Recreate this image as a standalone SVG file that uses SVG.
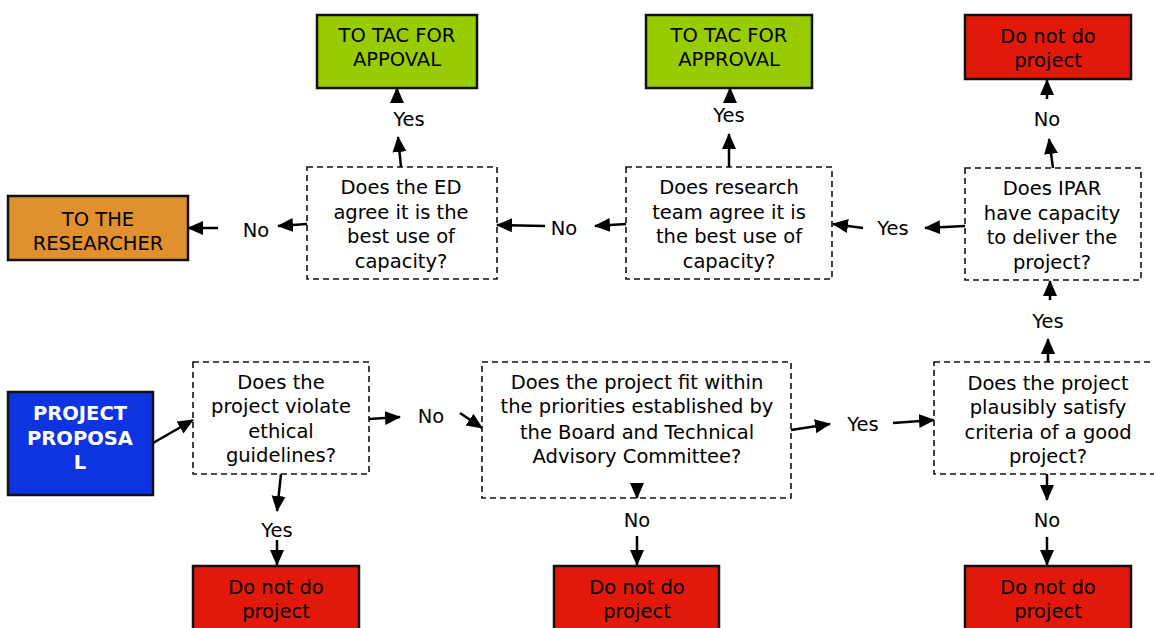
<svg xmlns="http://www.w3.org/2000/svg" width="1154" height="628" viewBox="0 0 1154 628">
<defs>
<marker id="ah" markerUnits="userSpaceOnUse" markerWidth="16" markerHeight="16" refX="15" refY="8" orient="auto">
<path d="M0,1 L16,8 L0,15 Z" fill="#000"/>
</marker>
<style>
text{font-family:"DejaVu Sans","Verdana",sans-serif;font-size:19.5px;fill:#000;text-anchor:middle}
.solid{stroke:#111;stroke-width:2.5}
.dash{fill:#fff;stroke:#111;stroke-width:1.6;stroke-dasharray:6,4}
.red{fill:#e2190a}
.green{fill:#99cc00}
.orange{fill:#e0902e}
.blue{fill:#0d34e0}
.w{fill:#fff;font-weight:bold}
#connectors path{fill:none;stroke:#000;stroke-width:2.5;marker-end:url(#ah)}
</style>
</defs>
<rect width="1154" height="628" fill="#fff"/>

<g id="tac1"><rect class="solid green" x="317" y="15" width="160" height="73"/><text x="397" y="35" dy="0.35em">TO TAC FOR</text><text x="397" y="59" dy="0.35em">APPOVAL</text></g>
<g id="tac2"><rect class="solid green" x="646" y="15" width="166" height="73"/><text x="729" y="35" dy="0.35em">TO TAC FOR</text><text x="729" y="59" dy="0.35em">APPROVAL</text></g>
<g id="stop1"><rect class="solid red" x="965" y="15" width="166" height="64"/><text x="1048" y="36" dy="0.35em">Do not do</text><text x="1048" y="60" dy="0.35em">project</text></g>
<g id="researcher"><rect class="solid orange" x="8" y="196" width="180" height="64"/><text x="98" y="219" dy="0.35em">TO THE</text><text x="98" y="243" dy="0.35em">RESEARCHER</text></g>
<g id="ed"><rect class="dash" x="307" y="167" width="190" height="112"/><text x="401" y="187" dy="0.35em">Does the ED</text><text x="401" y="212" dy="0.35em">agree it is the</text><text x="401" y="236" dy="0.35em">best use of</text><text x="401" y="261" dy="0.35em">capacity?</text></g>
<g id="team"><rect class="dash" x="626" y="167" width="206" height="112"/><text x="729" y="187" dy="0.35em">Does research</text><text x="729" y="212" dy="0.35em">team agree it is</text><text x="729" y="236" dy="0.35em">the best use of</text><text x="729" y="261" dy="0.35em">capacity?</text></g>
<g id="ipar"><rect class="dash" x="965" y="168" width="176" height="112"/><text x="1052" y="188" dy="0.35em">Does IPAR</text><text x="1052" y="213" dy="0.35em">have capacity</text><text x="1052" y="237" dy="0.35em">to deliver the</text><text x="1052" y="262" dy="0.35em">project?</text></g>
<g id="proposal"><rect class="solid blue" x="8" y="392" width="145" height="103"/><text class="w" x="80" y="413" dy="0.35em">PROJECT</text><text class="w" x="80" y="438" dy="0.35em">PROPOSA</text><text class="w" x="80" y="462" dy="0.35em">L</text></g>
<g id="ethical"><rect class="dash" x="193" y="362" width="176" height="112"/><text x="281" y="382" dy="0.35em">Does the</text><text x="281" y="406" dy="0.35em">project violate</text><text x="281" y="431" dy="0.35em">ethical</text><text x="281" y="455" dy="0.35em">guidelines?</text></g>
<g id="priorities"><rect class="dash" x="482" y="362" width="309" height="136"/><text x="637" y="382" dy="0.35em">Does the project fit within</text><text x="637" y="406" dy="0.35em">the priorities established by</text><text x="637" y="432" dy="0.35em">the Board and Technical</text><text x="637" y="456" dy="0.35em">Advisory Committee?</text></g>
<g id="criteria"><rect class="dash" x="934" y="362" width="230" height="112"/><text x="1048" y="383" dy="0.35em">Does the project</text><text x="1048" y="407" dy="0.35em">plausibly satisfy</text><text x="1048" y="432" dy="0.35em">criteria of a good</text><text x="1048" y="456" dy="0.35em">project?</text></g>
<g id="stop2"><rect class="solid red" x="193" y="566" width="166" height="70"/><text x="276" y="587" dy="0.35em">Do not do</text><text x="276" y="611" dy="0.35em">project</text></g>
<g id="stop3"><rect class="solid red" x="554" y="566" width="165" height="70"/><text x="637" y="587" dy="0.35em">Do not do</text><text x="637" y="611" dy="0.35em">project</text></g>
<g id="stop4"><rect class="solid red" x="965" y="566" width="166" height="70"/><text x="1048" y="587" dy="0.35em">Do not do</text><text x="1048" y="611" dy="0.35em">project</text></g>

<g id="connectors">
<path d="M153,443 L193,420"/>
<path d="M369,419 L400,417"/>
<path d="M460,413 L482,428"/>
<path d="M281,474 L277,511"/>
<path d="M277,540 L277,565"/>
<path d="M637,484 L637,498"/>
<path d="M637,536 L637,565"/>
<path d="M791,430 L830,424"/>
<path d="M893,423 L934,420"/>
<path d="M1048,362 L1048,339"/>
<path d="M1050,300 L1050,281"/>
<path d="M1047,474 L1047,500"/>
<path d="M1047,537 L1047,565"/>
<path d="M1053,168 L1049,139"/>
<path d="M1047,99 L1047,80"/>
<path d="M965,226 L925,228"/>
<path d="M863,228 L833,224"/>
<path d="M626,224 L595,226"/>
<path d="M545,226 L497,225"/>
<path d="M307,224 L278,226"/>
<path d="M218,228 L188,228"/>
<path d="M401,167 L398,137"/>
<path d="M397,103 L397,88"/>
<path d="M729,167 L729,134"/>
<path d="M730,102 L730,88"/>
</g>

<g id="labels">
<text x="256" y="230" dy="0.35em">No</text>
<text x="409" y="119" dy="0.35em">Yes</text>
<text x="564" y="228" dy="0.35em">No</text>
<text x="729" y="115" dy="0.35em">Yes</text>
<text x="893" y="228" dy="0.35em">Yes</text>
<text x="1047" y="119" dy="0.35em">No</text>
<text x="1048" y="321" dy="0.35em">Yes</text>
<text x="431" y="416" dy="0.35em">No</text>
<text x="863" y="424" dy="0.35em">Yes</text>
<text x="277" y="530" dy="0.35em">Yes</text>
<text x="637" y="520" dy="0.35em">No</text>
<text x="1047" y="520" dy="0.35em">No</text>
</g>
</svg>
